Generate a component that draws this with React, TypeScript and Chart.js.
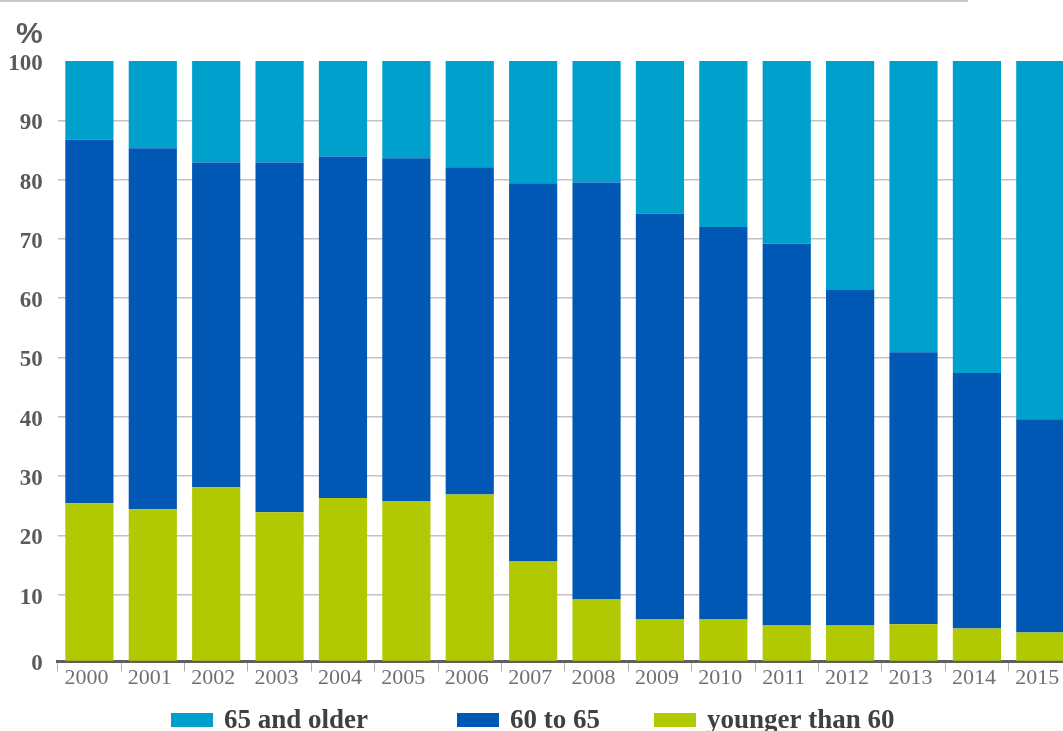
import React, { useEffect, useRef } from "react";
import { Chart, registerables } from "chart.js";

Chart.register(...registerables);

const years = ["2000", "2001", "2002", "2003", "2004", "2005", "2006", "2007", "2008", "2009", "2010", "2011", "2012", "2013", "2014", "2015"];
const youngerThan60 = [25.4, 24.4, 28.1, 23.9, 26.3, 25.8, 26.9, 15.6, 9.2, 5.8, 5.8, 4.8, 4.8, 5.0, 4.3, 3.6];
const from60to65 = [61.3, 60.9, 54.8, 59.0, 57.6, 57.8, 55.2, 63.8, 70.3, 68.5, 66.2, 64.4, 56.6, 45.9, 43.1, 36.0];
const olderThan65 = [13.3, 14.7, 17.1, 17.1, 16.1, 16.4, 17.9, 20.6, 20.5, 25.7, 28.0, 30.8, 38.6, 49.1, 52.6, 60.4];
const yTickValues = [0, 10, 20, 30, 40, 50, 60, 70, 80, 90, 100];
const seriesNames = ["younger than 60", "60 to 65", "65 and older"];
const unitLabel = "%";

const AXIS_FLOOR = -1.27;

const decorPlugin = {
  id: "decor",
  afterDraw(chart: any) {
    const ctx = chart.ctx;
    ctx.save();
    // top rule
    ctx.fillStyle = "#c9c9cd";
    ctx.fillRect(0, 0, 968, 2);
    // unit label
    ctx.fillStyle = "#5a5a5a";
    ctx.font = 'bold 30px "Liberation Sans"';
    ctx.textAlign = "left";
    ctx.textBaseline = "alphabetic";
    ctx.fillText(unitLabel, 16, 43);
    // legend (reverse order)
    const boxX = [171, 457, 654];
    const ds = chart.data.datasets.slice().reverse();
    ctx.font = 'bold 27px "Liberation Serif"';
    ds.forEach((d: any, i: number) => {
      ctx.fillStyle = d.backgroundColor;
      ctx.fillRect(boxX[i], 713, 42, 14);
      ctx.fillStyle = "#404040";
      ctx.fillText(d.label, boxX[i] + 53, 728);
    });
    ctx.restore();
  },
};

export default function App() {
  const ref = useRef<HTMLCanvasElement | null>(null);
  useEffect(() => {
    if (!ref.current) return;
    const chart = new Chart(ref.current, {
      type: "bar",
      data: {
        labels: years,
        datasets: [
          { label: seriesNames[0], data: youngerThan60, backgroundColor: "#b0c903", base: AXIS_FLOOR } as any,
          { label: seriesNames[1], data: from60to65, backgroundColor: "#0058b4" },
          { label: seriesNames[2], data: olderThan65, backgroundColor: "#00a0cd" },
        ],
      },
      options: {
        animation: false,
        responsive: true,
        maintainAspectRatio: false,
        datasets: { bar: { barPercentage: 0.76, categoryPercentage: 1 } },
        layout: { padding: { left: 0, top: 61, right: 1, bottom: 29.5 } },
        plugins: { legend: { display: false }, tooltip: { enabled: false }, title: { display: false } },
        scales: {
          x: {
            stacked: true,
            afterFit: (s: any) => { s.height = 40; },
            grid: { display: true, drawOnChartArea: false, drawTicks: true, tickLength: 10, color: "#aeaeae", lineWidth: 1 },
            border: { display: true, color: "#5f5f5f", width: 3 },
            ticks: {
              color: "#707070",
              font: { family: "Liberation Serif", size: 22, weight: "normal" },
              padding: -6,
              labelOffset: -3,
              maxRotation: 0,
              autoSkip: false,
            },
          },
          y: {
            stacked: true,
            min: AXIS_FLOOR,
            max: 100,
            afterFit: (s: any) => { s.width = 57.7; },
            afterBuildTicks: (s: any) => {
              s.ticks = yTickValues.map((v) => ({ value: v === 0 ? AXIS_FLOOR : v }));
            },
            grid: {
              drawTicks: false,
              lineWidth: 1.5,
              color: (c: any) => (c.tick && c.tick.value > 0 && c.tick.value < 100 ? "#c2c2c6" : "rgba(0,0,0,0)"),
            },
            border: { display: false },
            ticks: {
              color: "#5a5a5a",
              font: { family: "Liberation Serif", size: 23, weight: "bold" },
              padding: 15,
              labelOffset: 3,
              callback: (v: any) => (Number(v) < 0 ? "0" : String(v)),
            },
          },
        },
      },
      plugins: [decorPlugin],
    });
    return () => chart.destroy();
  }, []);
  return (
    <div style={{ position: "fixed", left: 0, top: 0, width: 1063, height: 731, overflow: "hidden", background: "#fff" }}>
      <div style={{ position: "relative", width: 1073, height: 731 }}>
        <canvas ref={ref} />
      </div>
    </div>
  );
}
